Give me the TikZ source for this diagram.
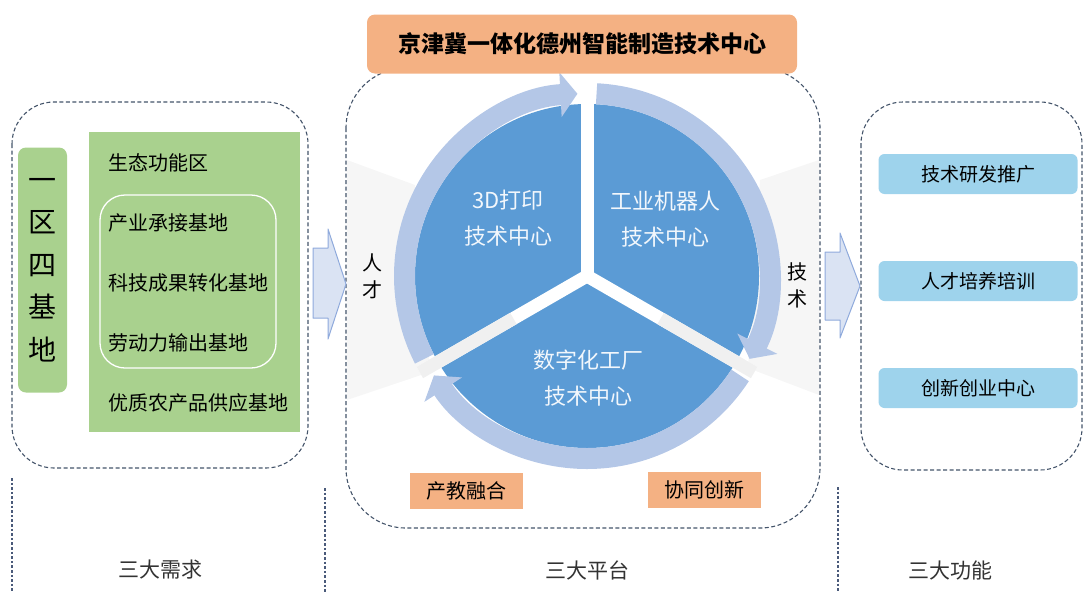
\documentclass[tikz,border=0pt]{standalone}
\usepackage{fontspec}
\setmainfont{Noto Sans CJK SC}
\usetikzlibrary{arrows.meta,positioning}
\definecolor{grn}{HTML}{A9D18E}
\definecolor{org}{HTML}{F4B183}
\definecolor{ringblue}{HTML}{B4C7E7}
\definecolor{diskblue}{HTML}{5B9BD5}
\definecolor{frameblue}{HTML}{44546A}
\definecolor{skyblue}{HTML}{9ED3EC}
\definecolor{arrowfill}{HTML}{DAE3F3}
\definecolor{arrowline}{HTML}{8FAADC}
\definecolor{sepblue}{HTML}{4A5A7A}
\tikzset{
  frame/.style={draw=frameblue, line width=1.1pt, dash pattern=on 4pt off 2.5pt},
  sep/.style={draw=sepblue, line width=2.6pt, dash pattern=on 2.6pt off 2pt},
  titlebox/.style={fill=org, rounded corners=8pt, minimum width=430pt, minimum height=59pt,
    font=\fontsize{23}{23}\selectfont\bfseries},
  greenbox/.style={fill=grn, rounded corners=8pt},
  tagbox/.style={fill=org, minimum width=113pt, minimum height=36pt, font=\fontsize{20}{20}\selectfont},
  funcbox/.style={fill=skyblue, rounded corners=6pt, minimum width=199pt, minimum height=40pt,
    font=\fontsize{19}{19}\selectfont},
  disktext/.style={text=white!92!diskblue, align=center, font=\fontsize{22}{36}\selectfont},
  sidetext/.style={align=center, font=\fontsize{20}{27}\selectfont},
  ringarrow/.style={ringblue, line width=21pt, -{Triangle[length=17pt,width=44pt]}},
  blockarrow/.style={fill=arrowfill, draw=arrowline, line width=1pt, line join=round}
}
\begin{document}
\begin{tikzpicture}[x=1pt,y=-1pt]
  \useasboundingbox (0,0) rectangle (1084,592);
  \def\r{182.5}
  \coordinate (c) at (587,276);
  %% faint shadows beside the circle
  \fill[gray!7] (347,160) -- (415,185) -- (430,372) -- (347,400) -- cycle;
  \fill[gray!7] (819,160) -- (760,180) -- (748,368) -- (819,395) -- cycle;
  %% dashed frames
  \draw[frame, rounded corners=42pt] (12,102) rectangle (308,468);
  \draw[frame, rounded corners=60pt] (346,68) rectangle (820,528);
  \draw[frame, rounded corners=42pt] (861,102) rectangle (1082,470);
  %% dotted separators
  \foreach \x/\y in {12/478,325/488,838/487}
    \draw[sep] (\x,\y) -- (\x,592);
  %% left part
  \node[greenbox, minimum width=49pt, minimum height=245pt] (zone) at (42.5,270) {};
  \node[font=\fontsize{28}{42.5}\selectfont, align=center] (zonetext) at (zone.center) {一\\区\\四\\基\\地};
  \fill[grn] (89,132) rectangle (300,432);
  \draw[white, line width=1.3pt, rounded corners=25pt] (100,195) rectangle (276,368);
  \foreach \i/\t in {0/生态功能区,1/产业承接基地,2/科技成果转化基地,3/劳动力输出基地,4/优质农产品供应基地}
    \node[anchor=west, inner sep=0pt, font=\fontsize{20}{20}\selectfont] (base\i) at (108,163+60*\i) {\t};
  %% block arrows
  \draw[blockarrow] (313,248) -- (328,248) -- (328,229) -- (346,284) -- (328,339) -- (328,318) -- (313,318) -- cycle;
  \draw[blockarrow] (825,252) -- (840,252) -- (840,233) -- (860,286) -- (840,338) -- (840,320) -- (825,320) -- cycle;
  %% circle with three sectors
  \fill[diskblue] (c) circle[radius=172];
  \draw[ringarrow] (c) ++(153:\r) arc[start angle=153, end angle=267, radius=\r];
  \draw[ringarrow] (c) ++(273:\r) arc[start angle=273, end angle=387, radius=\r];
  \draw[ringarrow] (c) ++(33:\r) arc[start angle=33, end angle=147, radius=\r];
  \foreach \a in {270,30,150}
    \draw[white, line width=13pt] (c) -- ++(\a:193);
  \foreach \a in {30,150}
    \draw[gray!12, line width=13pt] (c) ++(\a:85) -- ++(\a:108);
  \node[disktext] (print) at (508,218) {3D打印\\技术中心};
  \node[disktext] (robot) at (665,219) {工业机器人\\技术中心};
  \node[disktext] (factory) at (588,378) {数字化工厂\\技术中心};
  \node[sidetext] (talent) at (372,276) {人\\才};
  \node[sidetext] (tech) at (797,285) {技\\术};
  %% title and tags
  \node[titlebox] (title) at (582,44) {京津冀一体化德州智能制造技术中心};
  \node[tagbox] (edu) at (466.5,491) {产教融合};
  \node[tagbox] (innov) at (704,490) {协同创新};
  %% right part
  \foreach \i/\t in {0/技术研发推广,1/人才培养培训,2/创新创业中心}
    \node[funcbox] (func\i) at (978,174+107*\i) {\t};
  %% bottom labels
  \foreach \x/\t in {160/三大需求,587/三大平台,950/三大功能}
    \node[text=black!80, font=\fontsize{21}{21}\selectfont] (label\x) at (\x,570) {\t};
\end{tikzpicture}
\end{document}
